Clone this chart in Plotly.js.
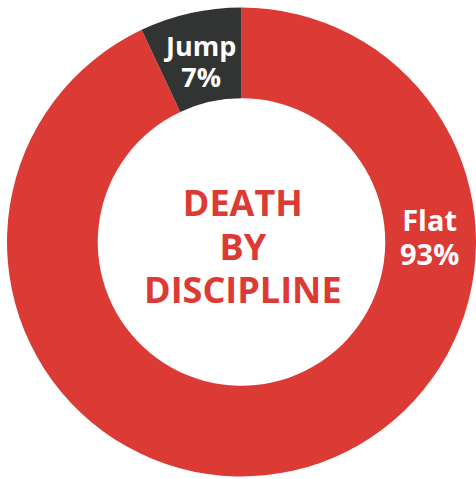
<!DOCTYPE html>
<html>
<head>
<meta charset="utf-8">
<script src="https://cdn.plot.ly/plotly-3.0.1.min.js"></script>
<style>html,body{margin:0;padding:0;background:#fff;}#chart{width:476px;height:479px;}</style>
</head>
<body>
<div id="chart"></div>
<script>
const labels = ["Flat", "Jump"];
const values = [93, 7];
const colors = ["#dc3a34", "#323433"];
const centerLines = ["DEATH", "BY", "DISCIPLINE"];

const W = 476, H = 479;
const M = {l: 7, r: 0, t: 7, b: 2};
const pw = W - M.l - M.r, ph = H - M.t - M.b;
const cx = M.l + pw / 2, cy = M.t + ph / 2;
const R = Math.min(pw, ph) / 2;
const hole = 0.613;
const rMid = R * (1 + hole) / 2;

function toPaper(px, py) {
  return {x: (px - M.l) / pw, y: (H - M.b - py) / ph};
}

const total = values.reduce((a, b) => a + b, 0);
const jumpAng = -(values[1] / total) * Math.PI;
const jumpPt = {x: cx + rMid * Math.sin(jumpAng), y: cy - rMid * Math.cos(jumpAng) + 4};
const flatPt = {x: cx + rMid - 1, y: cy - 6};

const annotations = [];
// lineSize controls line spacing (1.3 x lineSize); glyphSize is the drawn letter size
function addBlock(px, py, lines, lineSize, glyphSize, color) {
  const p = toPaper(px, py);
  const text = lines.map(t => '<span style="font-size:' + glyphSize + 'px"><b>' + t + '</b></span>').join("<br>");
  annotations.push({x: p.x, y: p.y, xref: "paper", yref: "paper", text: text,
    showarrow: false, xanchor: "center", yanchor: "middle",
    font: {family: "Open Sans", size: lineSize, color: color}});
}

addBlock(cx + 1, cy + 4, centerLines, 33.5, 36, colors[0]);
addBlock(jumpPt.x, jumpPt.y, [labels[1], values[1] + "%"], 24, 27, "#ffffff");
addBlock(flatPt.x, flatPt.y, [labels[0], values[0] + "%"], 26, 29, "#ffffff");

const data = [{
  type: "pie",
  labels: labels,
  values: values,
  hole: hole,
  sort: false,
  direction: "clockwise",
  rotation: 0,
  marker: {colors: colors, line: {width: 0}},
  textinfo: "none",
  hoverinfo: "none",
  showlegend: false
}];

const layout = {
  width: W, height: H,
  margin: M,
  paper_bgcolor: "#ffffff",
  showlegend: false,
  annotations: annotations
};

Plotly.newPlot("chart", data, layout, {displayModeBar: false, staticPlot: true});
</script>
</body>
</html>
